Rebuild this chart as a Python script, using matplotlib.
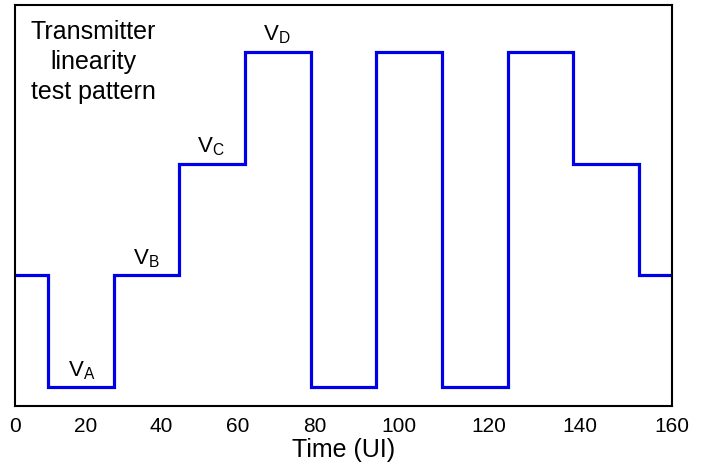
import matplotlib
matplotlib.use('Agg')
import matplotlib.pyplot as plt

plt.rcParams['font.family'] = ['Liberation Sans', 'DejaVu Sans']
plt.rcParams['mathtext.fontset'] = 'custom'
plt.rcParams['mathtext.rm'] = 'Liberation Sans'
plt.rcParams['mathtext.it'] = 'Liberation Sans'

# Step pattern: segment edges (UI) and level index of each segment
edges = [0, 8, 24, 40, 56, 72, 88, 104, 120, 136, 152, 160]
levels = [1, 0, 1, 2, 3, 0, 3, 0, 3, 2, 1]

# Level labels and where they sit (x in UI, level index)
label_text = ['A', 'B', 'C', 'D']
label_x = [12.9, 28.8, 44.4, 60.5]
label_level = [0, 1, 2, 3]

# tick labels are not evenly spaced in the original drawing
tick_pos = [0, 17.1, 35.6, 54.2, 72.9, 93.4, 115.3, 137.5, 160]
tick_labels = ['0', '20', '40', '60', '80', '100', '120', '140', '160']

fig = plt.figure(figsize=(7.06, 4.67), dpi=100)
ax = fig.add_axes([15 / 706, 61 / 467, 657 / 706, 401 / 467])

ax.stairs(levels, edges, baseline=None, color='#0000e6', linewidth=2.3)

for t, x, lv in zip(label_text, label_x, label_level):
    ax.text(x, lv + 0.1, r'V$_\mathrm{' + t + '}$', fontsize=16,
            ha='left', va='baseline')

ax.text(19, 3.28, "Transmitter\nlinearity\ntest pattern", fontsize=18,
        ha='center', va='top', multialignment='center', linespacing=1.32)

ax.set_xlim(0, 160)
ax.set_ylim(-0.167, 3.417)
ax.set_xticks(tick_pos)
ax.set_xticklabels(tick_labels)
ax.set_yticks([])
ax.tick_params(axis='x', length=0, labelsize=15, pad=8)
ax.set_xlabel("Time (UI)", fontsize=18, labelpad=1)
for s in ax.spines.values():
    s.set_linewidth(1.5)

fig.savefig('out.png', dpi=100)
